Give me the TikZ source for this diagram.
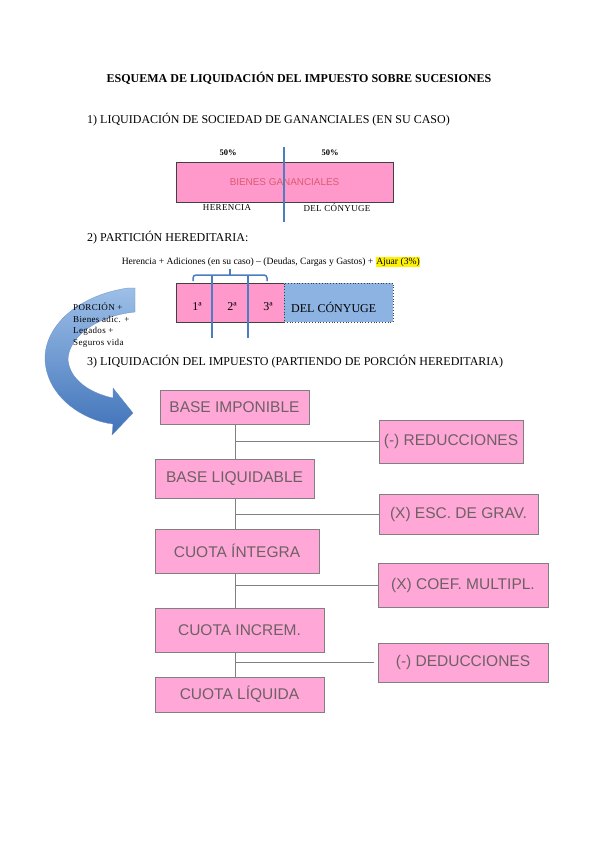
\documentclass[tikz,border=0pt]{standalone}
\usepackage{fontspec}
\setmainfont{Liberation Serif}
\newfontfamily\arialf{Liberation Sans}
\usetikzlibrary{positioning}
\definecolor{pinkA}{HTML}{FF99CC}
\definecolor{pinkF}{HTML}{FFA8D8}
\definecolor{flowline}{HTML}{808080}
\definecolor{flowtext}{HTML}{6E6064}
\definecolor{blueline}{HTML}{4A7EC0}
\definecolor{bluebox}{HTML}{8DB3E2}
\definecolor{redtext}{HTML}{DC5A70}
\definecolor{arrowtop}{HTML}{9DBFE8}
\definecolor{arrowbot}{HTML}{3F72B8}
\tikzset{
  txt/.style={inner sep=0pt, anchor=west},
  flowbox/.style={draw=flowline, line width=0.8pt, fill=pinkF, inner sep=0pt,
    font=\arialf\fontsize{15.5}{17}\selectfont, text=flowtext},
  flowconn/.style={draw=flowline, line width=0.9pt},
  bluestroke/.style={draw=blueline, line width=1.6pt},
  small/.style={inner sep=0pt, font=\fontsize{9}{10}\selectfont\addfontfeatures{LetterSpace=4}},
}
\begin{document}
\begin{tikzpicture}[x=1pt,y=-1pt]
\useasboundingbox (0,0) rectangle (599,848);
\fill[white] (0,0) rectangle (599,848);

% title
\node[inner sep=0pt, font=\bfseries\fontsize{12}{14}\selectfont] (title) at (299,78) {ESQUEMA DE LIQUIDACIÓN DEL IMPUESTO SOBRE SUCESIONES};

% section 1
\node[txt, font=\fontsize{12}{14}\selectfont] (s1) at (87,120) {1) LIQUIDACIÓN DE SOCIEDAD DE GANANCIALES (EN SU CASO)};
\node[draw=black!75, line width=0.8pt, fill=pinkA, minimum width=217pt, minimum height=40pt, inner sep=0pt,
  font=\arialf\fontsize{9.9}{11}\selectfont, text=redtext] (bg) at (284.5,182) {BIENES GANANCIALES};
\coordinate (v1top) at (284,147);
\coordinate (v1bot) at (284,222);
\draw[bluestroke] (v1top) -- (v1bot);
\node[inner sep=0pt, font=\bfseries\fontsize{8.5}{9}\selectfont] (p1) at (228,153) {50\%};
\node[inner sep=0pt, font=\bfseries\fontsize{8.5}{9}\selectfont] (p2) at (330,153) {50\%};
\node[small] (her) at (227,208) {HERENCIA};
\node[small] (dc1) at (337,208) {DEL CÓNYUGE};

% section 2
\node[txt, font=\fontsize{12}{14}\selectfont] (s2) at (87,238) {2) PARTICIÓN HEREDITARIA:};
\node[inner sep=0pt, font=\fontsize{9.6}{11}\selectfont] (form) at (271,262) {Herencia + Adiciones (en su caso) – (Deudas, Cargas y Gastos) + {\setlength{\fboxsep}{0.5pt}\colorbox{yellow}{Ajuar (3\%)}}};
\draw[blueline, line width=1.5pt, rounded corners=3pt] (193,281) -- (193,275) -- (267,275) -- (267,281);
\draw[blueline, line width=1.5pt] (230,275) -- (230,269);
\node[draw=black!75, line width=0.8pt, fill=pinkA, minimum width=108pt, minimum height=39pt, inner sep=0pt] (pb) at (230,302.5) {};
\node[draw=black!75, line width=0.8pt, dotted, fill=bluebox, minimum width=109pt, minimum height=39pt, inner sep=0pt] (bb) at (338.5,302.5) {};
\node[inner sep=0pt, font=\fontsize{12}{14}\selectfont] (o1) at (197,307) {1ª};
\node[inner sep=0pt, font=\fontsize{12}{14}\selectfont] (o2) at (232,307) {2ª};
\node[inner sep=0pt, font=\fontsize{12}{14}\selectfont] (o3) at (268,307) {3ª};
\node[txt, font=\fontsize{12}{14}\selectfont] (dc2) at (291,307) {DEL CÓNYUGE};
\coordinate (va1) at (212,275);
\coordinate (vb1) at (212,338);
\coordinate (va2) at (248,275);
\coordinate (vb2) at (248,338);
\draw[bluestroke] (va1) -- (vb1);
\draw[bluestroke] (va2) -- (vb2);

% curved arrow
\shade[top color=arrowtop, bottom color=arrowbot, draw=arrowbot!80, line width=0.3pt]
  (128,288) .. controls (75,296) and (44,328) .. (45,360)
  .. controls (47,398) and (85,421) .. (113,424)
  -- (112,435) -- (133,413) -- (113,388) -- (113,398)
  .. controls (90,393) and (70,380) .. (68,360)
  .. controls (68,338) and (95,316) .. (135,312)
  -- (135,288) -- cycle;
\node[small, anchor=west] (l1) at (73,307) {PORCIÓN +};
\node[small, anchor=west] (l2) at (73,319) {Bienes adic. +};
\node[small, anchor=west] (l3) at (73,331) {Legados +};
\node[small, anchor=west] (l4) at (73,343) {Seguros vida};

% section 3
\node[txt, font=\fontsize{12}{14}\selectfont] (s3) at (87,362) {3) LIQUIDACIÓN DEL IMPUESTO (PARTIENDO DE PORCIÓN HEREDITARIA)};

\node[flowbox, minimum width=149pt, minimum height=34pt] (bi) at (234.5,407) {BASE IMPONIBLE};
\node[flowbox, minimum width=144pt, minimum height=43pt] (red) at (451,441.5) {(-) REDUCCIONES};
\node[flowbox, minimum width=159pt, minimum height=39pt] (bl) at (234.5,478.5) {BASE LIQUIDABLE};
\node[flowbox, minimum width=159pt, minimum height=40pt] (esc) at (458.5,514) {(X) ESC. DE GRAV.};
\node[flowbox, minimum width=164pt, minimum height=44pt] (ci) at (237,551) {CUOTA ÍNTEGRA};
\node[flowbox, minimum width=170pt, minimum height=44pt] (coef) at (463,585) {(X) COEF. MULTIPL.};
\node[flowbox, minimum width=169pt, minimum height=44pt] (cin) at (239.5,630) {CUOTA INCREM.};
\node[flowbox, minimum width=170pt, minimum height=39pt] (ded) at (463,662.5) {(-) DEDUCCIONES};
\node[flowbox, minimum width=169pt, minimum height=35pt] (cl) at (239.5,694.5) {CUOTA LÍQUIDA};

\coordinate (sp) at (235,0);
\draw[flowconn] (bi.south -| sp) -- (bl.north -| sp);
\draw[flowconn] (sp |- red.west) -- (red.west);
\draw[flowconn] (bl.south -| sp) -- (ci.north -| sp);
\draw[flowconn] (sp |- esc.west) -- (esc.west);
\draw[flowconn] (ci.south -| sp) -- (cin.north -| sp);
\draw[flowconn] (sp |- coef.west) -- (coef.west);
\draw[flowconn] (cin.south -| sp) -- (cl.north -| sp);
\draw[flowconn, shorten >=4pt] (sp |- ded.west) -- (ded.west);
\end{tikzpicture}
\end{document}
